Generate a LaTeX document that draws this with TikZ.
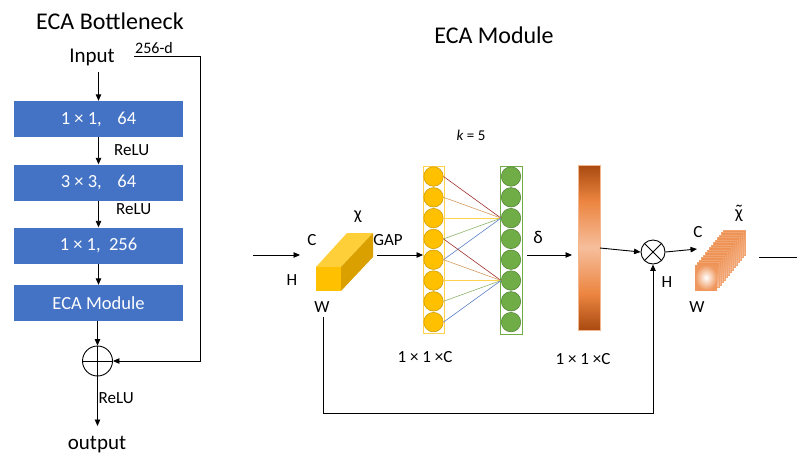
\documentclass[tikz,border=0pt]{standalone}
\usepackage{fontspec}
\setmainfont{Carlito}
\usetikzlibrary{arrows.meta}
\definecolor{ecablue}{HTML}{4472C4}
\definecolor{gold}{HTML}{FFC000}
\definecolor{goldtop}{HTML}{FFCF3A}
\definecolor{goldside}{HTML}{D9A000}
\definecolor{goldedge}{HTML}{C89600}
\definecolor{goldframe}{HTML}{FFD24D}
\definecolor{leafgreen}{HTML}{70AD47}
\definecolor{greenedge}{HTML}{4E7F30}
\definecolor{rust}{HTML}{A94A10}
\definecolor{midorange}{HTML}{EC8540}
\definecolor{lightorange}{HTML}{F6BE9C}
\definecolor{lnred}{HTML}{A0302E}
\definecolor{lntan}{HTML}{D49A62}
\definecolor{lnyellow}{HTML}{FFD34D}
\definecolor{lngreen}{HTML}{8DB36A}
\definecolor{lnblue}{HTML}{5B7FC6}
\pgfdeclareverticalshading{barshade}{100bp}{color(0bp)=(rust); color(25bp)=(rust); color(36bp)=(midorange); color(50bp)=(lightorange); color(64bp)=(midorange); color(75bp)=(rust); color(100bp)=(rust)}
\tikzset{
  arr/.style={line width=0.9pt,-{Triangle[length=6.5pt,width=5.5pt]}},
  ln/.style={line width=0.9pt},
  bluebox/.style={fill=ecablue,minimum width=169pt,minimum height=36pt,inner sep=0pt,text=white,font=\fontsize{18.5}{20}\selectfont},
  lbl/.style={font=\fontsize{17}{19}\selectfont,inner sep=0pt},
  bigtitle/.style={font=\fontsize{24}{28}\selectfont,inner sep=0pt},
  ycirc/.style={circle,fill=gold,draw=goldedge,line width=0.5pt,minimum size=19.5pt,inner sep=0pt},
  gcirc/.style={circle,fill=leafgreen,draw=greenedge,line width=0.5pt,minimum size=19.5pt,inner sep=0pt}
}
\begin{document}
\begin{tikzpicture}[x=1pt,y=-1pt]
\useasboundingbox (0,0) rectangle (797,456);
% ---------------- ECA Bottleneck ----------------
\node[bigtitle] (t1) at (110,21) {ECA Bottleneck};
\node[font=\fontsize{21}{23}\selectfont,inner sep=0pt] (inp) at (92,57) {Input};
\node[lbl,font=\fontsize{16}{18}\selectfont] (d256) at (154,48) {256-d};
\node[bluebox] (b1) at (98.5,119) {1 × 1,\ \ \ \,64};
\node[bluebox] (b2) at (98.5,182.5) {3 × 3,\ \ \ \,64};
\node[bluebox] (b3) at (98.5,245.5) {1 × 1,\ \ 256};
\node[bluebox] (b4) at (98.5,303) {ECA Module};
\node[circle,draw,line width=0.9pt,minimum size=30pt,inner sep=0pt] (plus) at (97.5,361) {};
\draw[line width=0.9pt] (plus.north) -- (plus.south) (plus.west) -- (plus.east);
\node[font=\fontsize{21}{23}\selectfont,inner sep=0pt] (outp) at (97,445) {output};
\node[lbl,anchor=west] (r1) at (114,150) {ReLU};
\node[lbl,anchor=west] (r2) at (116,209) {ReLU};
\node[lbl,anchor=west] (r3) at (98.5,398) {ReLU};
\coordinate (inbot) at (98.5,72);
\coordinate (outtip) at (97.5,426);
\draw[arr] (inbot) -- (b1.north);
\draw[arr] (b1.south) -- (b2.north);
\draw[arr] (b2.south) -- (b3.north);
\draw[arr] (b3.south) -- (b4.north);
\draw[arr] (b4.south -| plus.north) -- (plus.north);
\draw[arr] (plus.south) -- (outtip);
\coordinate (sk0) at (134,56);
\coordinate (sk1) at (200,56);
\draw[arr] (sk0) -- (sk1) -- (sk1 |- plus.east) -- (plus.east);
% ---------------- ECA Module ----------------
\node[bigtitle] (t2) at (494,35) {ECA Module};
\node[lbl,font=\fontsize{15}{17}\selectfont] (k5) at (471,135) {\textit{k} = 5};
% input arrow
\coordinate (in0) at (253,255);
\coordinate (in1) at (300,255);
\draw[arr] (in0) -- (in1);
% yellow cuboid
\fill[goldtop] (316,267) -- (347,233) -- (373,233) -- (341,267) -- cycle;
\fill[goldside] (341,267) -- (373,233) -- (373,257) -- (341,291) -- cycle;
\fill[gold] (316,267) rectangle (341,291);
\node[lbl] (lc1) at (312,240) {C};
\node[lbl] (lh1) at (292,280) {H};
\node[lbl] (lw1) at (322,307) {W};
\node[lbl,font=\fontsize{18}{20}\selectfont] (chi) at (358,217) {χ};
\node[lbl] (gap) at (388,240) {GAP};
\coordinate (gapa) at (377,255);
\coordinate (gapb) at (423,255);
\draw[arr] (gapa) -- (gapb);
% yellow column
\draw[goldframe,line width=0.8pt] (423,166) rectangle (444,333);
\foreach \i in {0,...,7}{
  \node[ycirc] (y\i) at (433.5,{176.5+20.8*\i}) {};
}
% green column
\draw[leafgreen,line width=0.8pt] (500,166) rectangle (522,334);
\foreach \i in {0,...,7}{
  \node[gcirc] (g\i) at (511,{176.5+20.8*\i}) {};
}
% connection lines
\foreach \a/\c in {0/lnred,1/lntan,2/lnyellow,3/lngreen,4/lnblue}{
  \draw[\c,line width=0.6pt] (y\a.east) -- (g2.west);
}
\foreach \a/\c in {3/lnred,4/lntan,5/lnyellow,6/lngreen,7/lnblue}{
  \draw[\c,line width=0.6pt] (y\a.east) -- (g5.west);
}
\node[lbl,font=\fontsize{18}{20}\selectfont] (delta) at (538,237) {δ};
\coordinate (dl0) at (527,255);
\coordinate (dl1) at (572,255);
\draw[arr] (dl0) -- (dl1);
\node[lbl] (dim1) at (425,357) {1 × 1 ×C};
\node[lbl] (dim2) at (583,359) {1 × 1 ×C};
% orange bar
\node[shading=barshade,inner sep=0pt,minimum width=22pt,minimum height=165pt] (bar) at (589,247.5) {};
\draw[midorange!60!white,line width=0.3pt] (bar.north west) rectangle (bar.south east);
% otimes
\node[circle,draw,line width=0.9pt,minimum size=24pt,inner sep=0pt] (ot) at (653,252) {};
\draw[line width=0.9pt] (ot.north west) -- (ot.south east) (ot.north east) -- (ot.south west);
\coordinate (bo) at (600,248);
\draw[arr] (bo) -- (ot.west);
\coordinate (ot1) at (697,249);
\draw[arr] (ot.east) -- (ot1);
% orange cuboid (slices)
\foreach \i in {14,13,...,1}{
  \shade[top color=midorange!90!white,bottom color=lightorange,draw=midorange!75!white,line width=0.25pt]
    ({695+2*\i},{265-2.5*\i}) rectangle ({717+2*\i},{290-2.5*\i});
}
\shade[inner color=white,outer color=midorange!85!white] (695,265) rectangle (717,290);
\node[lbl] (lc2) at (698,232) {C};
\node[lbl] (lh2) at (667,282) {H};
\node[lbl] (lw2) at (697,307) {W};
\node[lbl,font=\fontsize{18}{20}\selectfont,align=center] (chit) at (739,213)
  {\vbox{\offinterlineskip\halign{\hfil#\hfil\cr{\fontsize{20}{20}\selectfont\char"02DC}\cr\noalign{\kern-9pt}χ\cr}}};
\coordinate (o0) at (759,257);
\coordinate (o1) at (797,257);
\draw[ln] (o0) -- (o1);
% bottom skip
\coordinate (s0) at (323,317);
\coordinate (s1) at (323,413);
\draw[arr] (s0) -- (s1) -- (s1 -| ot.south) -- (ot.south);
\end{tikzpicture}
\end{document}
